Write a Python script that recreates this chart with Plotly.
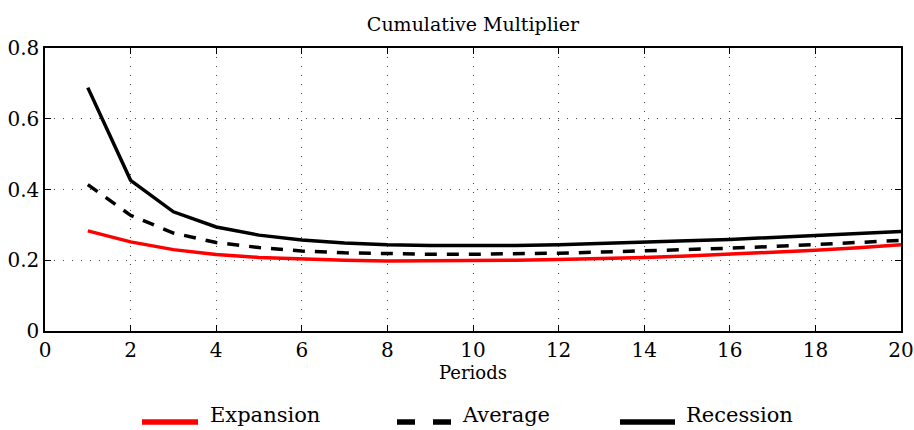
import plotly.graph_objects as go

periods = list(range(1, 21))
expansion = [0.283, 0.252, 0.230, 0.216, 0.208, 0.203, 0.200, 0.198, 0.198, 0.199,
             0.200, 0.202, 0.204, 0.208, 0.212, 0.217, 0.222, 0.228, 0.235, 0.244]
average = [0.414, 0.327, 0.277, 0.250, 0.236, 0.226, 0.221, 0.218, 0.217, 0.217,
           0.218, 0.220, 0.223, 0.226, 0.230, 0.234, 0.239, 0.244, 0.250, 0.256]
recession = [0.688, 0.426, 0.337, 0.294, 0.271, 0.257, 0.249, 0.244, 0.242, 0.241,
             0.242, 0.244, 0.247, 0.251, 0.255, 0.259, 0.264, 0.269, 0.275, 0.281]
series_names = ["Expansion", "Average", "Recession"]

FONT = "DejaVu Serif"
W, H = 914, 430
ML, MR, MT, MB = 45, 13, 48, 99

styles = [dict(color="#ff0000", dash="solid"),
          dict(color="black", dash="12px,10px"),
          dict(color="black", dash="solid")]

fig = go.Figure()
for name, ys, st in zip(series_names, [expansion, average, recession], styles):
    fig.add_trace(go.Scatter(x=periods, y=ys, mode="lines", name=name, showlegend=False,
                             line=dict(color=st["color"], width=3.5, dash=st["dash"])))

axis_common = dict(
    showline=True, linecolor="black", linewidth=1.5, mirror="ticks",
    ticks="inside", ticklen=6, tickcolor="black", tickwidth=1,
    showgrid=True, gridcolor="#444444", gridwidth=1, griddash="1px,8px",
    zeroline=False, automargin=False,
    tickfont=dict(family=FONT, size=20, color="black"),
)

fig.update_xaxes(range=[0, 20], dtick=2, tick0=0,
                 title=dict(text="Periods", font=dict(family=FONT, size=18, color="black"), standoff=6),
                 **axis_common)
fig.update_yaxes(range=[0, 0.8], dtick=0.2, tick0=0, **axis_common)

# manual legend (pixel positions converted to paper coords)
pw, ph = W - ML - MR, H - MT - MB
def px(x):
    return (x - ML) / pw
def py(y):
    return (H - MB - y) / ph

leg_y = 422
legend_items = [(142, 198, 208), (397, 452, 460), (620, 675, 684)]
leg_dash = ["solid", "18px,18px", "solid"]
for (x0, x1, tx), name, st, dsh in zip(legend_items, series_names, styles, leg_dash):
    fig.add_shape(type="line", xref="paper", yref="paper",
                  x0=px(x0), x1=px(x1), y0=py(leg_y), y1=py(leg_y),
                  line=dict(color=st["color"], width=5.5, dash=dsh))
    fig.add_annotation(xref="paper", yref="paper", x=px(tx), y=py(415),
                       text=name, showarrow=False, xanchor="left", yanchor="middle",
                       font=dict(family=FONT, size=21, color="black"))

fig.update_layout(
    width=W, height=H,
    font=dict(family=FONT),
    margin=dict(l=ML, r=MR, t=MT, b=MB),
    paper_bgcolor="white", plot_bgcolor="white",
    title=dict(text="Cumulative Multiplier", x=0.5, xref="paper", xanchor="center",
               y=1 - 24 / H, yref="container", yanchor="middle",
               font=dict(family=FONT, size=19, color="black")),
    showlegend=False,
)

fig.write_html("out.html")
